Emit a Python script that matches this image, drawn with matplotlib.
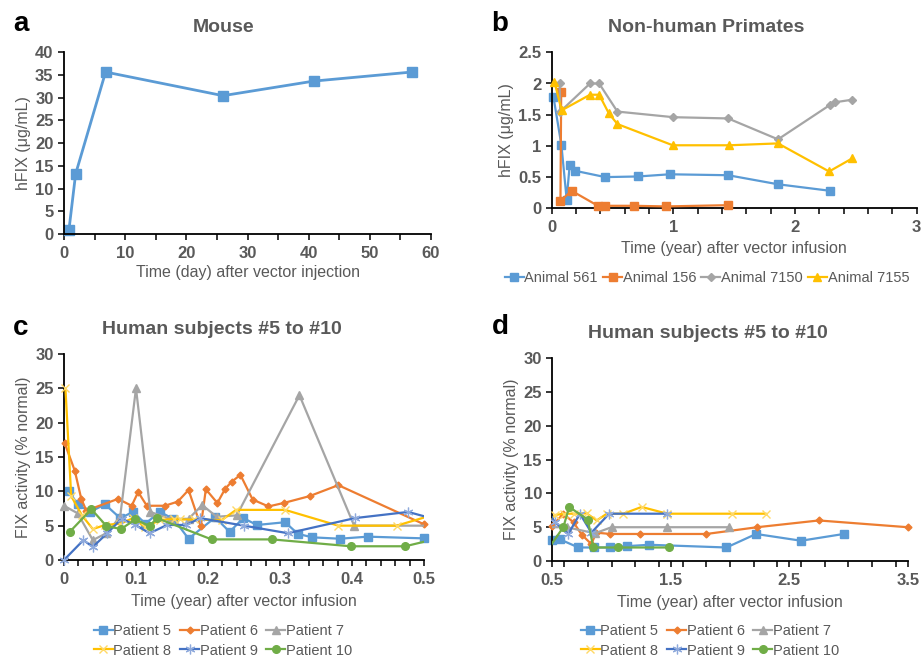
import numpy as np
import matplotlib
matplotlib.use("Agg")
import matplotlib.pyplot as plt
from matplotlib.lines import Line2D
from matplotlib.ticker import MultipleLocator

plt.rcParams['font.family'] = ['Liberation Sans', 'DejaVu Sans']

# ---------------- data ----------------
# Panel a: mouse
mouse_days = [0.8, 1.9, 6.8, 26.0, 40.8, 56.9]
mouse_hfix = [0.8, 13.2, 35.6, 30.4, 33.6, 35.6]

# Panel b: non-human primates
a561_x = [0.014, 0.08, 0.123, 0.148, 0.195, 0.44, 0.71, 0.97, 1.45, 1.86, 2.29]
a561_y = [1.79, 1.01, 0.14, 0.70, 0.60, 0.50, 0.51, 0.545, 0.53, 0.385, 0.28]
a156_x = [0.078, 0.072, 0.164, 0.38, 0.44, 0.68, 0.94, 1.45]
a156_y = [1.87, 0.12, 0.28, 0.04, 0.04, 0.04, 0.03, 0.05]
a7150_x = [0.065, 0.07, 0.315, 0.39, 0.54, 1.0, 1.45, 1.86, 2.29, 2.33, 2.47]
a7150_y = [2.0, 1.55, 2.0, 2.0, 1.55, 1.46, 1.44, 1.105, 1.66, 1.70, 1.74]
a7155_x = [0.022, 0.082, 0.315, 0.39, 0.47, 0.54, 0.995, 1.46, 1.86, 2.28, 2.47]
a7155_y = [2.03, 1.57, 1.82, 1.82, 1.52, 1.35, 1.01, 1.01, 1.04, 0.59, 0.80]

# Panels c/d: human subjects (time in years)
p5_x = [0.007, 0.019, 0.036, 0.057, 0.078, 0.096, 0.113, 0.133, 0.152, 0.173, 0.21, 0.23,
        0.249, 0.268, 0.307, 0.325, 0.345, 0.383, 0.422, 0.5, 0.565, 0.72, 0.855, 0.99,
        1.13, 1.32, 1.97, 2.22, 2.6, 2.96]
p5_y = [10.0, 8.1, 7.0, 8.1, 6.1, 7.0, 5.3, 7.0, 6.0, 3.1, 6.2, 4.1,
        6.1, 5.1, 5.5, 3.8, 3.3, 3.1, 3.4, 3.15, 3.2, 2.0, 2.0, 2.0,
        2.2, 2.4, 2.0, 4.0, 3.0, 4.0]
p6_x = [0.001, 0.015, 0.024, 0.031, 0.075, 0.094, 0.103, 0.115, 0.14, 0.158, 0.173, 0.19,
        0.197, 0.213, 0.224, 0.233, 0.245, 0.262, 0.284, 0.305, 0.341, 0.381, 0.5, 0.593,
        0.68, 0.748, 0.83, 0.87, 0.99, 1.24, 1.80, 2.23, 2.75, 3.5]
p6_y = [17.0, 13.0, 8.9, 7.2, 8.9, 7.9, 9.9, 7.9, 7.9, 8.5, 10.2, 4.9,
        10.3, 8.3, 10.4, 11.4, 12.4, 8.8, 7.8, 8.3, 9.3, 10.9, 5.2, 7.0,
        5.7, 3.9, 2.5, 4.2, 4.0, 4.0, 4.0, 5.0, 6.0, 5.0]
p7_x = [0.0, 0.019, 0.04, 0.059, 0.078, 0.1, 0.12, 0.147, 0.173, 0.192, 0.212, 0.24,
        0.327, 0.403, 0.62, 0.86, 1.0, 1.47, 1.99]
p7_y = [7.9, 6.8, 2.9, 3.9, 6.3, 25.0, 7.0, 6.0, 6.0, 8.0, 6.3, 6.5,
        24.0, 5.0, 5.0, 4.1, 5.0, 5.0, 5.0]
p8_x = [0.002, 0.01, 0.025, 0.04, 0.057, 0.078, 0.096, 0.1125, 0.133, 0.153, 0.161, 0.18,
        0.219, 0.239, 0.307, 0.381, 0.462, 0.52, 0.6, 0.68, 0.79, 0.875, 0.96, 1.1,
        1.254, 1.47, 2.02, 2.30]
p8_y = [25.0, 9.3, 6.5, 4.5, 5.1, 5.3, 6.1, 4.8, 5.8, 6.0, 5.9, 5.9,
        5.8, 7.3, 7.3, 5.0, 5.0, 6.8, 7.0, 7.0, 7.05, 6.0, 7.0, 7.0,
        8.0, 7.0, 7.0, 7.0]
p9_x = [0.0, 0.027, 0.04, 0.06, 0.08, 0.099, 0.119, 0.143, 0.17, 0.189, 0.25, 0.311,
        0.404, 0.478, 0.52, 0.635, 0.733, 0.83, 0.98, 1.47]
p9_y = [0.0, 2.9, 1.9, 3.9, 6.0, 5.1, 3.9, 5.1, 5.1, 6.1, 5.0, 3.9,
        6.1, 7.0, 5.8, 4.0, 7.0, 4.2, 7.0, 7.0]
p10_x = [0.008, 0.038, 0.059, 0.079, 0.099, 0.119, 0.129, 0.205, 0.289, 0.398, 0.474,
         0.593, 0.643, 0.80, 0.846, 1.057, 1.485]
p10_y = [4.1, 7.4, 4.95, 4.5, 5.9, 4.95, 6.1, 3.0, 3.0, 2.0, 2.0,
         5.0, 8.0, 6.1, 2.0, 2.0, 2.0]

# ---------------- styles ----------------
BLUE = '#5B9BD5'
ORANGE = '#ED7D31'
GRAY = '#A5A5A5'
YELLOW = '#FFC000'
DBLUE = '#4472C4'
GREEN = '#70AD47'
TXT = '#595959'
ASTER = (6, 2, 0)

fig = plt.figure(figsize=(9.22, 6.59), dpi=100)

def px_rect(l, t, r, b):
    W, H = 922.0, 659.0
    return [l / W, 1 - b / H, (r - l) / W, (b - t) / H]

def style_axes(ax):
    for s in ['top', 'right']:
        ax.spines[s].set_visible(False)
    for s in ['left', 'bottom']:
        ax.spines[s].set_color('black')
        ax.spines[s].set_linewidth(1.3)
    ax.tick_params(axis='both', which='both', direction='out', color='black',
                   width=1.1, length=4.5, labelcolor=TXT, labelsize=12)
    ax.tick_params(axis='x', which='both', pad=4)
    ax.tick_params(axis='y', which='both', pad=3)
    ax.tick_params(axis='y', which='minor', left=False)
    for lab in ax.get_xticklabels() + ax.get_yticklabels():
        lab.set_fontweight('bold')

def draw_series(ax, x, y, color, marker, ms, mec=None, mew=1.0, lw=1.6, z=2, xlim=None):
    x = np.asarray(x, float)
    y = np.asarray(y, float)
    ax.plot(x, y, color=color, lw=lw, zorder=z, clip_on=True, solid_joinstyle='round')
    if xlim is not None:
        m = (x >= xlim[0] - 1e-9) & (x <= xlim[1] + 1e-9)
    else:
        m = np.ones_like(x, bool)
    ax.plot(x[m], y[m], ls='none', marker=marker, ms=ms, color=color,
            mec=mec if mec else color, mew=mew, zorder=z + 0.5, clip_on=False)

def proxy(color, marker, ms, mec=None, mew=1.0, lw=1.6):
    return Line2D([], [], color=color, lw=lw, marker=marker, ms=ms,
                  mec=mec if mec else color, mew=mew)

# ---------------- panel a ----------------
axA = fig.add_axes(px_rect(64, 52, 431, 234))
draw_series(axA, mouse_days, mouse_hfix, BLUE, 's', 6.5, lw=2.0)
axA.set_xlim(0, 60)
axA.set_ylim(0, 40)
axA.xaxis.set_major_locator(MultipleLocator(10))
axA.xaxis.set_minor_locator(MultipleLocator(5))
axA.yaxis.set_major_locator(MultipleLocator(5))
style_axes(axA)
axA.set_xlabel('Time (day) after vector injection', fontsize=11.5, color=TXT, labelpad=3)
axA.set_ylabel('hFIX (μg/mL)', fontsize=11.5, color=TXT, labelpad=3)

# ---------------- panel b ----------------
axB = fig.add_axes(px_rect(551.7, 52.3, 916.7, 208.3))
b_specs = [
    (a561_x, a561_y, BLUE, 's', 5.5, 'Animal 561'),
    (a156_x, a156_y, ORANGE, 's', 5.5, 'Animal 156'),
    (a7150_x, a7150_y, GRAY, 'D', 3.8, 'Animal 7150'),
    (a7155_x, a7155_y, YELLOW, '^', 6.0, 'Animal 7155'),
]
b_handles = []
for i, (xx, yy, c, mk, ms, lab) in enumerate(b_specs):
    draw_series(axB, xx, yy, c, mk, ms, z=2 + i)
    b_handles.append(proxy(c, mk, ms))
axB.set_xlim(0, 3)
axB.set_ylim(0, 2.5)
axB.xaxis.set_major_locator(MultipleLocator(1))
axB.xaxis.set_minor_locator(MultipleLocator(0.2))
axB.yaxis.set_major_locator(MultipleLocator(0.5))
axB.yaxis.set_major_formatter(matplotlib.ticker.FuncFormatter(lambda v, p: ('%g' % v)))
style_axes(axB)
axB.set_xlabel('Time (year) after vector infusion', fontsize=11.5, color=TXT, labelpad=4)
axB.set_ylabel('hFIX (μg/mL)', fontsize=11.5, color=TXT, labelpad=3)
fig.legend(b_handles, [s[5] for s in b_specs], loc='center',
           bbox_to_anchor=(707 / 922, 1 - 278 / 659), ncol=4, frameon=False,
           fontsize=10.5, handlelength=1.3, handletextpad=0.05, columnspacing=0.35,
           labelcolor=TXT, borderpad=0)

# ---------------- panels c, d ----------------
h_specs = [
    (p5_x, p5_y, BLUE, 's', 5.5, None, 1.0, 'Patient 5'),
    (p6_x, p6_y, ORANGE, 'D', 3.5, None, 1.0, 'Patient 6'),
    (p7_x, p7_y, GRAY, '^', 5.5, None, 1.0, 'Patient 7'),
    (p8_x, p8_y, YELLOW, 'x', 6.0, '#FFD966', 1.0, 'Patient 8'),
    (p9_x, p9_y, DBLUE, ASTER, 7.0, '#8FAADC', 0.9, 'Patient 9'),
    (p10_x, p10_y, GREEN, 'o', 5.5, None, 1.0, 'Patient 10'),
]

def human_panel(rect, xlim, major, minor, legend_center):
    ax = fig.add_axes(rect)
    handles = []
    for i, (xx, yy, c, mk, ms, mec, mew, lab) in enumerate(h_specs):
        draw_series(ax, xx, yy, c, mk, ms, mec=mec, mew=mew, z=2 + i, xlim=xlim)
        handles.append(proxy(c, mk, ms, mec=mec, mew=mew))
    ax.set_xlim(*xlim)
    ax.set_ylim(0, 30)
    ax.set_xticks(np.arange(xlim[0], xlim[1] + 1e-9, major))
    ax.xaxis.set_minor_locator(MultipleLocator(minor))
    ax.xaxis.set_major_formatter(matplotlib.ticker.FuncFormatter(lambda v, p: ('%g' % round(v, 3))))
    ax.yaxis.set_major_locator(MultipleLocator(5))
    style_axes(ax)
    ax.set_xlabel('Time (year) after vector infusion', fontsize=11.5, color=TXT, labelpad=5)
    ax.set_ylabel('FIX activity (% normal)', fontsize=11.5, color=TXT, labelpad=3)
    labels = [s[7] for s in h_specs]
    order = [0, 3, 1, 4, 2, 5]
    fig.legend([handles[k] for k in order], [labels[k] for k in order], loc='center',
               bbox_to_anchor=legend_center, ncol=3, frameon=False,
               fontsize=10.5, handlelength=1.3, handletextpad=0.05, columnspacing=0.6,
               labelspacing=0.35, labelcolor=TXT, borderpad=0)
    return ax

axC = human_panel(px_rect(64, 354, 424, 560), (0, 0.5), 0.1, 0.02,
                  (223 / 922, 1 - 641 / 659))
axD = human_panel(px_rect(552.3, 358.3, 907.7, 561), (0.5, 3.5), 1.0, 0.2,
                  (710 / 922, 1 - 641 / 659))

# ---------------- titles and panel letters ----------------
def ftext(x, y, s, **kw):
    fig.text(x / 922, 1 - y / 659, s, ha='center', va='center', **kw)

ftext(224, 27, 'Mouse', fontsize=14, fontweight='bold', color=TXT)
ftext(706, 27, 'Non-human Primates', fontsize=14, fontweight='bold', color=TXT)
ftext(222, 329, 'Human subjects #5 to #10', fontsize=14, fontweight='bold', color=TXT)
ftext(708, 333, 'Human subjects #5 to #10', fontsize=14, fontweight='bold', color=TXT)

ftext(21, 24, 'a', fontsize=20, fontweight='bold', color='black')
ftext(500, 24, 'b', fontsize=20, fontweight='bold', color='black')
ftext(21, 328, 'c', fontsize=20, fontweight='bold', color='black')
ftext(500, 327, 'd', fontsize=20, fontweight='bold', color='black')

fig.savefig('out.png', dpi=100)
